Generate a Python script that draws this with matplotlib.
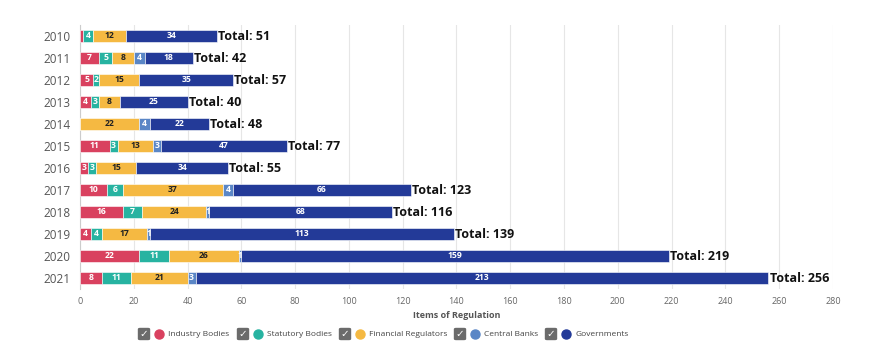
import matplotlib.pyplot as plt
from matplotlib.patches import FancyBboxPatch
from matplotlib.lines import Line2D
import numpy as np

plt.rcParams['font.family'] = ['Open Sans', 'DejaVu Sans']

years = ['2010', '2011', '2012', '2013', '2014', '2015', '2016', '2017', '2018', '2019', '2020', '2021']
industry = [1, 7, 5, 4, 0, 11, 3, 10, 16, 4, 22, 8]
statutory = [4, 5, 2, 3, 0, 3, 3, 6, 7, 4, 11, 11]
financial = [12, 8, 15, 8, 22, 13, 15, 37, 24, 17, 26, 21]
central = [0, 4, 0, 0, 4, 3, 0, 4, 1, 1, 1, 3]
governments = [34, 18, 35, 25, 22, 47, 34, 66, 68, 113, 159, 213]

series_names = ['Industry Bodies', 'Statutory Bodies', 'Financial Regulators', 'Central Banks', 'Governments']
colors = ['#d9415f', '#27b3a1', '#f5b942', '#5a86c6', '#233a98']
text_colors = ['white', 'white', '#222222', 'white', 'white']

W, H = 889, 354
fig = plt.figure(figsize=(W / 100, H / 100), dpi=100)
ax = fig.add_axes([80 / W, 1 - 289 / H, (833 - 80) / W, (289 - 25) / H])

y = np.arange(len(years))
left = np.zeros(len(years))
for vals, c, tc in zip([industry, statutory, financial, central, governments], colors, text_colors):
    vals = np.array(vals, dtype=float)
    ax.barh(y, vals, left=left, height=0.57, color=c, edgecolor='white', linewidth=0.4, zorder=3)
    for yi, (l, v) in enumerate(zip(left, vals)):
        if v > 0 and not (v == 1 and l == 0):
            ax.text(l + v / 2, yi, f'{int(v)}', ha='center', va='center',
                    fontsize=6.2, fontweight='bold', color=tc, zorder=4)
    left += vals

for yi, tot in enumerate(left):
    ax.text(tot + 0.4, yi, f'Total: {int(tot)}', ha='left', va='center',
            fontsize=9, fontweight='bold', color='#111111', zorder=4)

ax.set_xlim(0, 280)
ax.set_ylim(len(years) - 0.5, -0.5)
ax.set_xticks(np.arange(0, 281, 20))
ax.set_yticks(y)
ax.set_yticklabels(years)
ax.tick_params(axis='y', length=0, labelsize=8.5, labelcolor='#555555', pad=7)
ax.tick_params(axis='x', length=0, labelsize=6.5, labelcolor='#666666', pad=6)
ax.grid(axis='x', color='#e6e6e6', linewidth=0.8, zorder=0)
for s in ['top', 'right', 'bottom']:
    ax.spines[s].set_visible(False)
ax.spines['left'].set_color('#cccccc')
ax.set_xlabel('Items of Regulation', fontsize=6.5, fontweight='bold', color='#555555', labelpad=3)

# legend with checkboxes
ly = 334
items = [(144, 159, 168), (243, 258, 267), (345, 360, 369), (460, 475, 484), (551, 566, 575)]
for (bx, cx, tx), name, c in zip(items, series_names, colors):
    fig.patches.append(FancyBboxPatch(((bx - 5.5) / W, 1 - (ly + 5.5) / H), 11 / W, 11 / H,
                                      boxstyle='round,pad=0,rounding_size=0.002',
                                      transform=fig.transFigure, color='#6b6b6b'))
    fig.text(bx / W, 1 - ly / H, '\u2713', ha='center', va='center', fontsize=7.5,
             color='white', fontweight='bold', family='DejaVu Sans')
    fig.add_artist(Line2D([cx / W], [1 - ly / H], marker='o', markersize=6.5,
                          color=c, transform=fig.transFigure))
    fig.text(tx / W, 1 - ly / H, name, ha='left', va='center', fontsize=6, color='#444444')

fig.savefig('out.png', dpi=100)
